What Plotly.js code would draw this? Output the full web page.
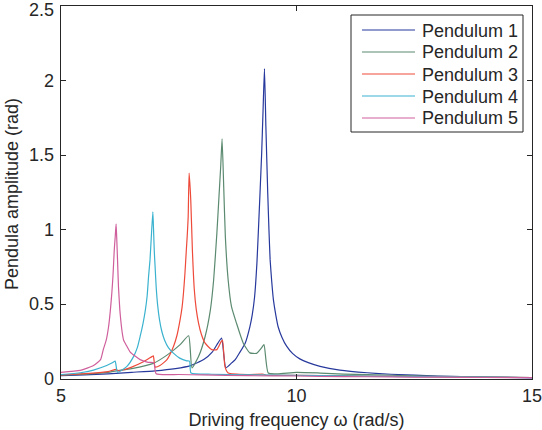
<!DOCTYPE html>
<html>
<head>
<meta charset="utf-8">
<script src="https://cdn.plot.ly/plotly-3.0.1.min.js"></script>
<style>html,body{margin:0;padding:0;background:#fff;}#chart{width:542px;height:430px;}</style>
</head>
<body>
<div id="chart"></div>
<script>
// Series names
const names = ["Pendulum 1", "Pendulum 2", "Pendulum 3", "Pendulum 4", "Pendulum 5"];

// Pendulum 1
const x1 = [5.00, 5.50, 6.00, 6.50, 7.00, 7.43, 7.75, 8.03, 8.21, 8.33, 8.41, 8.50, 8.63, 8.70, 8.79, 8.91, 9.01, 9.06, 9.11, 9.16, 9.20, 9.23, 9.26, 9.29, 9.32, 9.35, 9.39, 9.415, 9.44, 9.475, 9.51, 9.56, 9.61, 9.69, 9.79, 9.92, 10.07, 10.25, 10.50, 10.92, 11.50, 12.00, 13.00, 14.00, 15.00];
const y1 = [0.022, 0.028, 0.035, 0.045, 0.055, 0.070, 0.090, 0.130, 0.180, 0.240, 0.275, 0.075, 0.110, 0.130, 0.175, 0.240, 0.350, 0.430, 0.550, 0.780, 1.060, 1.280, 1.510, 1.800, 2.080, 1.690, 1.240, 1.000, 0.800, 0.650, 0.530, 0.430, 0.350, 0.280, 0.220, 0.170, 0.135, 0.110, 0.085, 0.060, 0.042, 0.032, 0.020, 0.013, 0.008];

// Pendulum 2
const x2 = [5.00, 5.50, 6.00, 6.17, 6.50, 6.96, 7.25, 7.53, 7.71, 7.78, 7.92, 8.06, 8.17, 8.24, 8.31, 8.35, 8.39, 8.42, 8.455, 8.49, 8.55, 8.62, 8.73, 8.87, 9.01, 9.15, 9.26, 9.31, 9.40, 9.60, 10.00, 10.50, 11.00, 12.00, 13.00, 14.00, 15.00];
const y2 = [0.025, 0.033, 0.045, 0.055, 0.070, 0.105, 0.160, 0.230, 0.290, 0.075, 0.150, 0.285, 0.460, 0.660, 0.980, 1.200, 1.420, 1.610, 1.285, 0.950, 0.660, 0.485, 0.370, 0.240, 0.175, 0.172, 0.210, 0.230, 0.040, 0.035, 0.045, 0.040, 0.033, 0.025, 0.018, 0.013, 0.010];

// Pendulum 3
const x3 = [5.00, 5.60, 6.00, 6.17, 6.21, 6.50, 6.75, 6.93, 6.96, 7.00, 7.10, 7.25, 7.39, 7.46, 7.53, 7.57, 7.60, 7.63, 7.66, 7.68, 7.70, 7.72, 7.755, 7.79, 7.83, 7.87, 7.92, 7.98, 8.06, 8.20, 8.31, 8.40, 8.43, 8.48, 8.55, 9.00, 9.30, 9.36, 10.00, 11.00, 12.00, 13.00, 15.00];
const y3 = [0.028, 0.038, 0.050, 0.065, 0.055, 0.080, 0.115, 0.150, 0.155, 0.080, 0.090, 0.130, 0.220, 0.290, 0.400, 0.480, 0.575, 0.700, 0.860, 0.960, 1.085, 1.380, 1.200, 0.860, 0.600, 0.470, 0.375, 0.300, 0.240, 0.197, 0.197, 0.250, 0.260, 0.085, 0.040, 0.030, 0.032, 0.025, 0.025, 0.022, 0.018, 0.014, 0.010];

// Pendulum 4
const x4 = [5.00, 5.41, 5.69, 5.97, 6.10, 6.15, 6.20, 6.40, 6.54, 6.62, 6.68, 6.74, 6.79, 6.83, 6.86, 6.89, 6.91, 6.95, 6.965, 6.98, 7.00, 7.02, 7.05, 7.09, 7.14, 7.20, 7.28, 7.38, 7.52, 7.67, 7.73, 7.76, 8.20, 9.00, 10.00, 12.00, 15.00];
const y4 = [0.030, 0.042, 0.060, 0.090, 0.110, 0.120, 0.045, 0.085, 0.150, 0.210, 0.285, 0.370, 0.460, 0.560, 0.690, 0.800, 0.910, 1.120, 1.000, 0.860, 0.740, 0.620, 0.500, 0.400, 0.320, 0.260, 0.210, 0.175, 0.140, 0.122, 0.120, 0.040, 0.032, 0.028, 0.025, 0.018, 0.010];

// Pendulum 5
const x5 = [5.00, 5.41, 5.69, 5.84, 5.90, 5.96, 6.01, 6.045, 6.08, 6.105, 6.13, 6.15, 6.17, 6.185, 6.20, 6.22, 6.25, 6.27, 6.30, 6.33, 6.38, 6.47, 6.68, 6.85, 6.97, 7.02, 7.50, 8.00, 9.00, 10.00, 11.00, 12.00, 13.00, 14.00, 15.00];
const y5 = [0.045, 0.058, 0.090, 0.130, 0.200, 0.260, 0.350, 0.450, 0.580, 0.700, 0.860, 0.950, 1.040, 0.930, 0.800, 0.620, 0.460, 0.390, 0.310, 0.260, 0.230, 0.180, 0.130, 0.112, 0.110, 0.035, 0.030, 0.027, 0.022, 0.020, 0.016, 0.014, 0.012, 0.010, 0.009];

const xs = [x1, x2, x3, x4, x5];
const ys = [y1, y2, y3, y4, y5];
const colors = ["#27399c", "#5b8a70", "#ee4a3a", "#3ab2cf", "#cf5f9c"];

const xTicks = [5, 10, 15];
const yTicks = [0, 0.5, 1, 1.5, 2, 2.5];
const yRange = [0, 2.5];

const FONT = "Liberation Sans, Arial, sans-serif";
const INK = "#262626";

const traces = names.map((n, i) => ({
  type: "scatter", mode: "lines", name: n,
  x: xs[i], y: ys[i],
  line: {color: colors[i], width: 1.2, shape: "spline", smoothing: 0.5},
  showlegend: false
}));

// plot area in pixels
const W = 542, H = 430, ML = 61, MR = 10, MT = 6, MB = 51;
const PW = W - ML - MR, PH = H - MT - MB;
const px = v => (v - ML) / PW;
const py = v => (H - MB - v) / PH;

// custom legend (box, sample lines, labels)
const shapes = [{
  type: "rect", xref: "paper", yref: "paper",
  x0: px(351), x1: px(523), y0: py(132), y1: py(15),
  line: {color: INK, width: 1}, fillcolor: "#fff", layer: "above"
}];
const annotations = [];
names.forEach((n, i) => {
  const rowY = 30 + i * 22;
  shapes.push({
    type: "line", xref: "paper", yref: "paper",
    x0: px(362), x1: px(415), y0: py(rowY), y1: py(rowY),
    line: {color: colors[i], width: 1.2}, layer: "above"
  });
  annotations.push({
    xref: "paper", yref: "paper", x: px(420), y: py(rowY + 0.5),
    xanchor: "left", yanchor: "middle", showarrow: false,
    text: n, font: {family: FONT, size: 18, color: INK}
  });
});

// y tick labels as text placed on the y scale (kept inside the figure at the top)
yTicks.forEach(v => {
  const pixY = MT + (yRange[1] - v) / (yRange[1] - yRange[0]) * PH;
  const shift = pixY < 10 ? -(10 - pixY) : 0;
  annotations.push({
    xref: "paper", yref: "y", x: px(56), y: v, yshift: shift,
    xanchor: "right", yanchor: "middle", showarrow: false,
    text: String(v), font: {family: FONT, size: 18, color: INK}
  });
});

// y axis title
annotations.push({
  xref: "paper", yref: "paper", x: px(12), y: py(194),
  xanchor: "center", yanchor: "middle", showarrow: false, textangle: -90,
  text: "Pendula amplitude (rad)", font: {family: FONT, size: 18, color: INK}
});

const axisCommon = {
  showline: true, mirror: "ticks", linecolor: INK, linewidth: 1,
  ticks: "inside", ticklen: 5, tickcolor: INK, tickwidth: 1,
  showgrid: false, zeroline: false, ticklabeloverflow: "allow",
  tickfont: {family: FONT, size: 18, color: INK}
};

const layout = {
  width: W, height: H,
  margin: {l: ML, r: MR, t: MT, b: MB},
  paper_bgcolor: "#fff", plot_bgcolor: "#fff",
  font: {family: FONT, size: 18, color: INK},
  showlegend: false,
  xaxis: Object.assign({}, axisCommon, {
    range: [5, 15], tickvals: xTicks, ticktext: xTicks.map(String),
    title: {text: "Driving frequency \u03c9 (rad/s)", standoff: 11,
            font: {family: FONT, size: 18, color: INK}}
  }),
  yaxis: Object.assign({}, axisCommon, {
    range: yRange, tickvals: yTicks, showticklabels: false
  }),
  shapes: shapes,
  annotations: annotations
};

Plotly.newPlot("chart", traces, layout, {displayModeBar: false, staticPlot: true});
</script>
</body>
</html>
